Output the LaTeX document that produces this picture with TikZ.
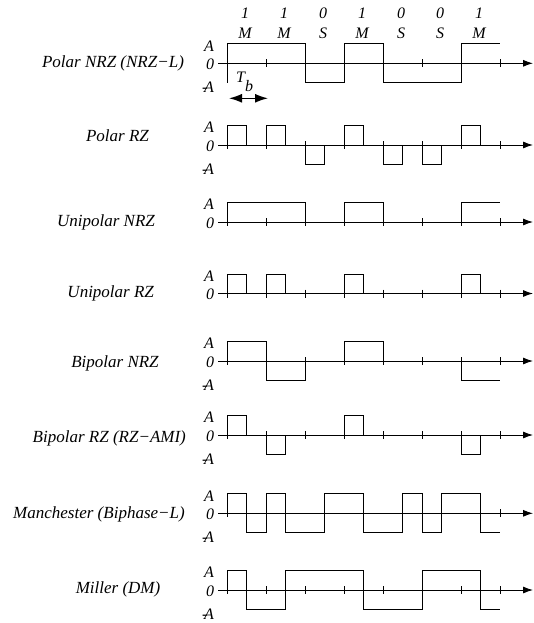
\documentclass[tikz,border=0pt]{standalone}
\usepackage{fontspec}
\setmainfont{Liberation Serif}
\usepackage{tikz}
\usetikzlibrary{arrows.meta,calc}

\begin{document}
\begin{tikzpicture}[x=1pt,y=-1pt,>=latex,
  rowlbl/.style={font=\itshape\fontsize{17}{19}\selectfont,inner sep=0pt},
  lvl/.style={font=\itshape\fontsize{16}{18}\selectfont,inner sep=0pt},
  wave/.style={line width=0.9pt,line join=miter},
  axis/.style={line width=0.9pt,-{Latex[length=10pt,width=7pt]}}]
  \useasboundingbox (0,0) rectangle (534,623);
  \foreach \b/\m [count=\i from 0] in {1/M,1/M,0/S,1/M,0/S,0/S,1/M}{
    \node[lvl] (bit\i) at (245+39*\i,13.3) {\b};
    \node[lvl] (code\i) at (245+39*\i,33) {\m};
  }
  \foreach \n/\z/\lx/\ly/\t/\neg in {
      polnrz/63.3/113/63.3/{Polar NRZ (NRZ−L)}/1,
      polrz/145/117.5/135.5/{Polar RZ}/1,
      uninrz/222/106/222.4/{Unipolar NRZ}/0,
      unirz/293.5/110.7/293.6/{Unipolar RZ}/0,
      bipnrz/361/115/363.4/{Bipolar NRZ}/1,
      biprz/435/109.3/438/{Bipolar RZ (RZ−AMI)}/1,
      manch/513.3/99/514.7/{Manchester (Biphase−L)}/1,
      miller/590/118/589.6/{Miller (DM)}/1}{
    \node[rowlbl] (lbl-\n) at (\lx,\ly) {\t};
    \node[lvl] (A-\n) at (209,\z-17.5) {A};
    \node[lvl] (zero-\n) at (210,\z+1) {0};
    \ifnum\neg=1
      \node[lvl] (negA-\n) at (208,\z+24) {-\kern-0.2em A};
    \fi
    \coordinate (ax-\n-s) at (218,\z);
    \coordinate (ax-\n-e) at (533,\z);
    \draw[axis] (ax-\n-s) -- (ax-\n-e);
  }
  \foreach \z in {63.3,145,222,293.5,361,435,590}
    \foreach \k in {0,...,7}
      \draw[wave] (227+39*\k,\z-4) -- ++(0,8);
  \draw[wave] (227,509.3) -- ++(0,8);
  \draw[wave] (500,509.3) -- ++(0,8);

  \begin{scope}[shift={(227,63.3)},x=39pt,y=19.5pt]
    \draw[wave] (0,-1) -- (0,1) -- (2,1) -- (2,-1) -- (3,-1) -- (3,1) -- (4,1) -- (4,-1) -- (6,-1) -- (6,1) -- (7,1);
  \end{scope}
  \begin{scope}[shift={(227,145)},x=39pt,y=19.5pt]
    \foreach \k/\s in {0/1,1/1,2/-1,3/1,4/-1,5/-1,6/1}
      \draw[wave] (\k,0) -- (\k,\s) -- (\k+.5,\s) -- (\k+.5,0);
  \end{scope}
  \begin{scope}[shift={(227,222)},x=39pt,y=19.5pt]
    \draw[wave] (0,0) -- (0,1) -- (2,1) -- (2,0);
    \draw[wave] (3,0) -- (3,1) -- (4,1) -- (4,0);
    \draw[wave] (6,0) -- (6,1) -- (7,1);
  \end{scope}
  \begin{scope}[shift={(227,293.5)},x=39pt,y=19.5pt]
    \foreach \k in {0,1,3,6}
      \draw[wave] (\k,0) -- (\k,1) -- (\k+.5,1) -- (\k+.5,0);
  \end{scope}
  \begin{scope}[shift={(227,361)},x=39pt,y=19.5pt]
    \draw[wave] (0,0) -- (0,1) -- (1,1) -- (1,-1) -- (2,-1) -- (2,0);
    \draw[wave] (3,0) -- (3,1) -- (4,1) -- (4,0);
    \draw[wave] (6,0) -- (6,-1) -- (7,-1);
  \end{scope}
  \begin{scope}[shift={(227,435)},x=39pt,y=19.5pt]
    \foreach \k/\s in {0/1,1/-1,3/1,6/-1}
      \draw[wave] (\k,0) -- (\k,\s) -- (\k+.5,\s) -- (\k+.5,0);
  \end{scope}
  \begin{scope}[shift={(227,513.3)},x=39pt,y=19.5pt]
    \draw[wave] (0,0) -- (0,1) -- (.5,1) -- (.5,-1) -- (1,-1) -- (1,1) -- (1.5,1) -- (1.5,-1) -- (2.5,-1) -- (2.5,1) -- (3.5,1) -- (3.5,-1) -- (4.5,-1) -- (4.5,1) -- (5,1) -- (5,-1) -- (5.5,-1) -- (5.5,1) -- (6.5,1) -- (6.5,-1) -- (7,-1);
  \end{scope}
  \begin{scope}[shift={(227,590)},x=39pt,y=19.5pt]
    \draw[wave] (0,0) -- (0,1) -- (.5,1) -- (.5,-1) -- (1.5,-1) -- (1.5,1) -- (3.5,1) -- (3.5,-1) -- (5,-1) -- (5,1) -- (6.5,1) -- (6.5,-1) -- (7,-1);
  \end{scope}

  \node[lvl,anchor=base west] (tb) at (236,83) {T\raisebox{-1.2ex}{b}};
  \coordinate (tb-s) at (229,98.3);
  \coordinate (tb-e) at (268,98.3);
  \draw[line width=1.4pt,{Latex[length=13pt,width=9pt]}-{Latex[length=13pt,width=9pt]}] (tb-s) -- (tb-e);
\end{tikzpicture}
\end{document}
